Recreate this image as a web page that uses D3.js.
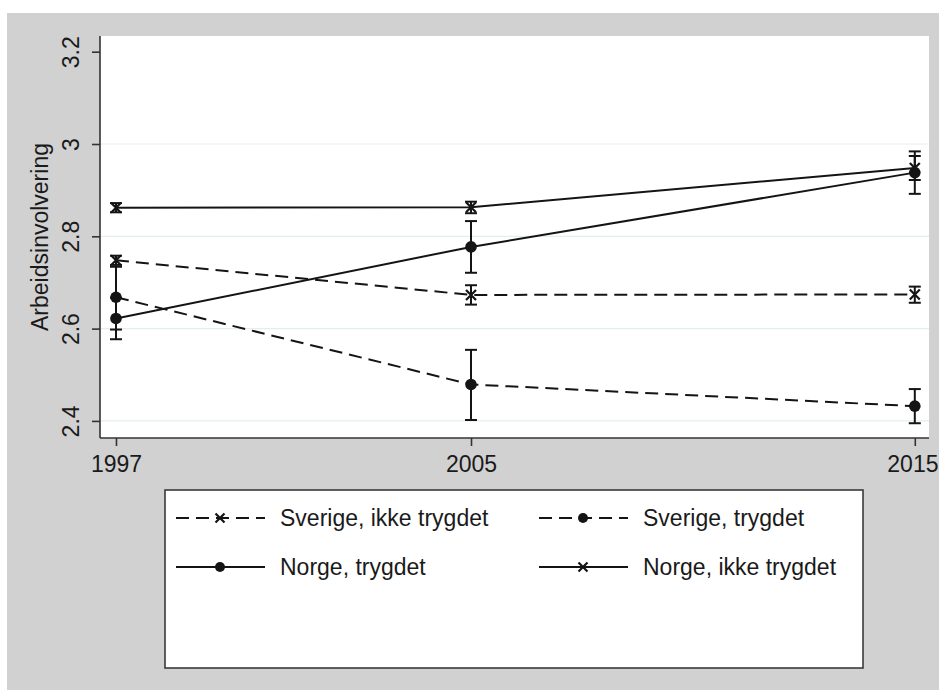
<!DOCTYPE html>
<html>
<head>
<meta charset="utf-8">
<script src="https://cdn.jsdelivr.net/npm/d3@7/dist/d3.min.js"></script>
<style>
  html, body { margin: 0; padding: 0; background: #ffffff; }
  svg { display: block; }
  text { font-family: "Liberation Sans", Arial, sans-serif; fill: #1a1a1a; }
</style>
</head>
<body>
<svg id="chart" width="939" height="690"></svg>
<script>
// Survey years on the x axis
const years = [1997, 2005, 2015];

// Mean work involvement with 95% confidence limits, by group
const sverigeIkke      = [2.748, 2.673, 2.674];
const sverigeIkkeLo    = [2.734, 2.652, 2.656];
const sverigeIkkeHi    = [2.758, 2.694, 2.691];

const sverigeTrygdet   = [2.668, 2.479, 2.432];
const sverigeTrygdetLo = [2.598, 2.402, 2.395];
const sverigeTrygdetHi = [2.738, 2.554, 2.469];

const norgeTrygdet     = [2.622, 2.777, 2.938];
const norgeTrygdetLo   = [2.577, 2.721, 2.892];
const norgeTrygdetHi   = [2.667, 2.833, 2.984];

const norgeIkke        = [2.862, 2.863, 2.948];
const norgeIkkeLo      = [2.852, 2.850, 2.922];
const norgeIkkeHi      = [2.872, 2.875, 2.974];

const yTicks = [2.4, 2.6, 2.8, 3.0, 3.2];
const yTickLabels = ["2.4", "2.6", "2.8", "3", "3.2"];
const gridTicks = [2.4, 2.6, 2.8, 3.0];

const seriesNames = ["Sverige, ikke trygdet", "Sverige, trygdet", "Norge, trygdet", "Norge, ikke trygdet"];
const yLabel = "Arbeidsinvolvering";

const series = [
  { name: seriesNames[0], v: sverigeIkke,    lo: sverigeIkkeLo,    hi: sverigeIkkeHi,    dashed: true,  marker: "x" },
  { name: seriesNames[1], v: sverigeTrygdet, lo: sverigeTrygdetLo, hi: sverigeTrygdetHi, dashed: true,  marker: "dot" },
  { name: seriesNames[2], v: norgeTrygdet,   lo: norgeTrygdetLo,   hi: norgeTrygdetHi,   dashed: false, marker: "dot" },
  { name: seriesNames[3], v: norgeIkke,      lo: norgeIkkeLo,      hi: norgeIkkeHi,      dashed: false, marker: "x" }
];

const ink = "#141414";
const dash = "13,7";
const W = 939;
const svg = d3.select("#chart");

// outer grey graph region
svg.append("rect").attr("x", 7).attr("y", 13).attr("width", 932).attr("height", 677).attr("fill", "#d1d1d1");

const plot = { left: 100, top: 36, right: 929, bottom: 438 };
svg.append("rect")
  .attr("x", plot.left).attr("y", plot.top)
  .attr("width", plot.right - plot.left).attr("height", plot.bottom - plot.top)
  .attr("fill", "#ffffff");

const x = d3.scaleLinear().domain([1996.64, 2015.32]).range([plot.left, plot.right]);
const y = d3.scaleLinear().domain([2.363, 3.234]).range([plot.bottom, plot.top]);

// grid lines
svg.append("g").selectAll("line").data(gridTicks).join("line")
  .attr("x1", plot.left).attr("x2", plot.right)
  .attr("y1", d => y(d)).attr("y2", d => y(d))
  .attr("stroke", "#e4eeef").attr("stroke-width", 1.2);

// y axis
const yAxis = svg.append("g").attr("transform", `translate(${plot.left},0)`)
  .call(d3.axisLeft(y).tickValues(yTicks).tickSize(8).tickPadding(12)
    .tickFormat((d, i) => yTickLabels[i]));
yAxis.select(".domain").attr("stroke", "#333").attr("stroke-width", 1.6).attr("d", `M0,${plot.top}V${plot.bottom}`);
yAxis.selectAll(".tick line").attr("stroke", "#333").attr("stroke-width", 1.6);
yAxis.selectAll(".tick text")
  .attr("font-size", 23).attr("fill", "#1a1a1a")
  .attr("x", null).attr("dy", null)
  .attr("text-anchor", "middle")
  .attr("transform", "translate(-21,0) rotate(-90)");

// x axis
const xAxis = svg.append("g").attr("transform", `translate(0,${plot.bottom})`)
  .call(d3.axisBottom(x).tickValues(years).tickSize(8).tickPadding(10).tickFormat(d3.format("d")));
xAxis.select(".domain").attr("stroke", "#333").attr("stroke-width", 1.6).attr("d", `M${plot.left},0H${plot.right}`);
xAxis.selectAll(".tick line").attr("stroke", "#333").attr("stroke-width", 1.6);
xAxis.selectAll(".tick text").attr("font-size", 23).attr("fill", "#1a1a1a").attr("dy", "0.71em").attr("y", 18)
  .each(function (d) {
    // keep the last label inside the canvas
    const bb = this.getBBox();
    const right = x(d) + bb.x + bb.width;
    if (right > W - 1) d3.select(this).attr("x", (W - 1) - right);
  });

// y axis title
svg.append("text")
  .attr("transform", `translate(48,${(plot.top + plot.bottom) / 2}) rotate(-90)`)
  .attr("text-anchor", "middle").attr("font-size", 23)
  .text(yLabel);

function drawMarker(g, type, cx, cy, r) {
  if (type === "dot") {
    g.append("circle").attr("cx", cx).attr("cy", cy).attr("r", r).attr("fill", ink);
  } else {
    const s = r;
    g.append("path")
      .attr("d", `M${cx - s},${cy - s}L${cx + s},${cy + s}M${cx - s},${cy + s}L${cx + s},${cy - s}`)
      .attr("stroke", ink).attr("stroke-width", 2.2).attr("fill", "none");
  }
}

const line = d3.line().x((d, i) => x(years[i])).y(d => y(d));
const marks = svg.append("g");

series.forEach(s => {
  // connecting line
  marks.append("path").datum(s.v)
    .attr("d", line).attr("fill", "none")
    .attr("stroke", ink).attr("stroke-width", 2)
    .attr("stroke-dasharray", s.dashed ? dash : null);
  // confidence intervals
  years.forEach((yr, i) => {
    const cx = x(yr);
    marks.append("line").attr("x1", cx).attr("x2", cx).attr("y1", y(s.lo[i])).attr("y2", y(s.hi[i]))
      .attr("stroke", ink).attr("stroke-width", 2);
    [s.lo[i], s.hi[i]].forEach(v => {
      marks.append("line").attr("x1", cx - 6).attr("x2", cx + 6).attr("y1", y(v)).attr("y2", y(v))
        .attr("stroke", ink).attr("stroke-width", 2);
    });
  });
});
series.forEach(s => {
  years.forEach((yr, i) => drawMarker(marks, s.marker, x(yr), y(s.v[i]), s.marker === "dot" ? 5.8 : 5));
});

// legend
const lg = svg.append("g");
lg.append("rect").attr("x", 165).attr("y", 490).attr("width", 698).attr("height", 178)
  .attr("fill", "#ffffff").attr("stroke", "#3a3a3a").attr("stroke-width", 1.6);

const cols = [176, 539];
const rows = [518, 567];
series.forEach((s, i) => {
  const x0 = cols[i % 2], yy = rows[Math.floor(i / 2)];
  lg.append("line").attr("x1", x0).attr("x2", x0 + 89).attr("y1", yy).attr("y2", yy)
    .attr("stroke", ink).attr("stroke-width", 2)
    .attr("stroke-dasharray", s.dashed ? dash : null);
  drawMarker(lg, s.marker, x0 + 44, yy, s.marker === "dot" ? 5 : 4.5);
  lg.append("text").attr("x", x0 + 104).attr("y", yy).attr("dy", "0.36em")
    .attr("font-size", 23).text(s.name);
});
</script>
</body>
</html>
